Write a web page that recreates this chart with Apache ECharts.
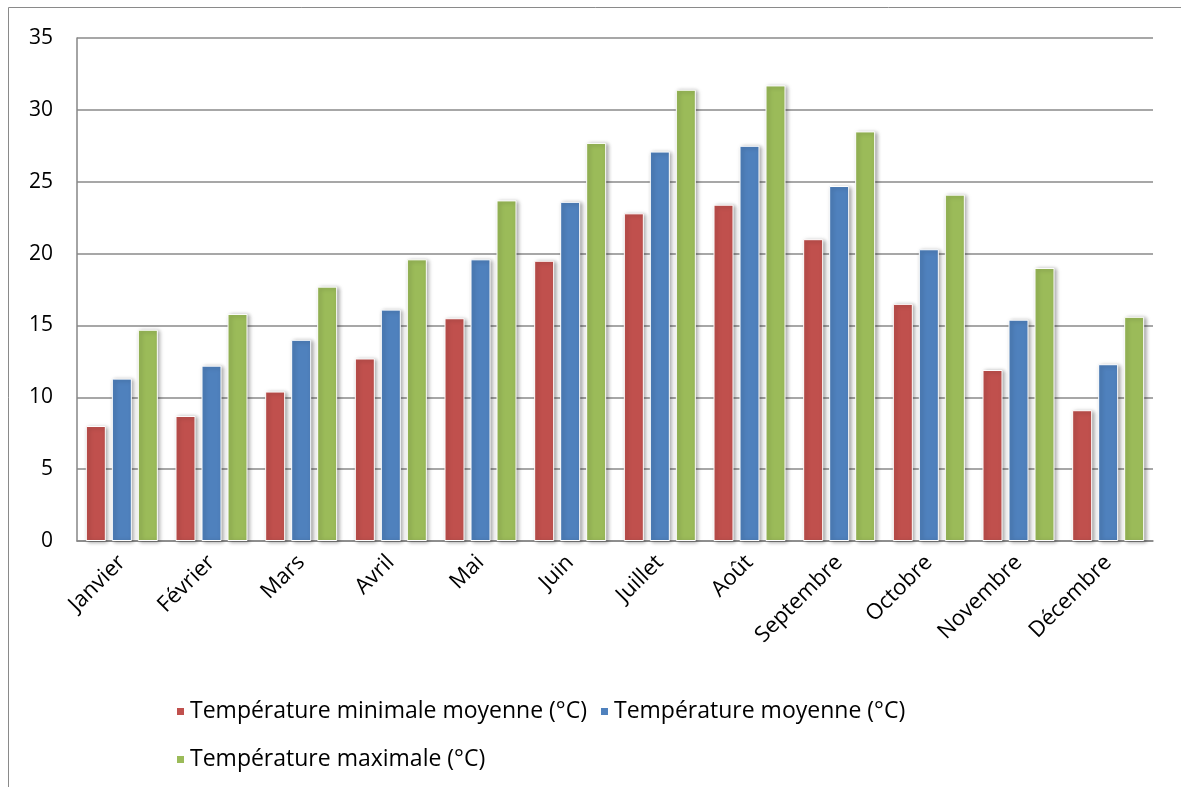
<!DOCTYPE html>
<html><head><meta charset="utf-8">
<script src="https://cdn.jsdelivr.net/npm/echarts@6/dist/echarts.min.js"></script>
<style>html,body{margin:0;padding:0;background:#fff}#c{width:1181px;height:787px}</style>
</head><body><div id="c"></div>
<script>
const categories = ['Janvier','Février','Mars','Avril','Mai','Juin','Juillet','Août','Septembre','Octobre','Novembre','Décembre'];
const seriesNames = ['Température minimale moyenne (°C)','Température moyenne (°C)','Température maximale (°C)'];
const tMin = [8.0, 8.7, 10.4, 12.7, 15.5, 19.5, 22.8, 23.4, 21.0, 16.5, 11.9, 9.1];
const tMoy = [11.3, 12.2, 14.0, 16.1, 19.6, 23.6, 27.1, 27.5, 24.7, 20.3, 15.4, 12.3];
const tMax = [14.7, 15.8, 17.7, 19.6, 23.7, 27.7, 31.4, 31.7, 28.5, 24.1, 19.0, 15.6];
const yTicks = {min: 0, max: 35, interval: 5};
const colors = ['#C0504D', '#4F81BD', '#9BBB59'];

const FONT = 'Open Sans';
const chart = echarts.init(document.getElementById('c'), null, {renderer: 'canvas'});
const mk = (name, data, color) => ({
  name, type: 'bar', data, barWidth: 20, barGap: '30%',
  itemStyle: {color, borderColor: '#fff', borderWidth: 1,
    shadowColor: 'rgba(0,0,0,0.35)', shadowBlur: 4, shadowOffsetX: 2, shadowOffsetY: 1},
  emphasis: {disabled: true}
});
chart.setOption({
  animation: false,
  textStyle: {fontFamily: FONT},
  graphic: [{type: 'rect', shape: {x: 8.5, y: 7.5, width: 1180, height: 800},
    style: {fill: 'none', stroke: '#8a8a8a', lineWidth: 1}, silent: true}],
  grid: {left: 77, right: 28, top: 38, bottom: 246, containLabel: false},
  legend: [
    {data: [seriesNames[0], seriesNames[1]], left: 170, top: 695, itemWidth: 9, itemHeight: 9,
     itemGap: 12, icon: 'rect', textStyle: {fontSize: 23, color: '#000', fontFamily: FONT}},
    {data: [seriesNames[2]], left: 170, top: 743, itemWidth: 9, itemHeight: 9,
     icon: 'rect', textStyle: {fontSize: 23, color: '#000', fontFamily: FONT}}
  ],
  xAxis: {type: 'category', data: categories,
    axisLine: {lineStyle: {color: '#868686', width: 1.5}},
    axisTick: {show: false},
    axisLabel: {rotate: 45, fontSize: 22, color: '#000', margin: 18, fontFamily: FONT}},
  yAxis: {type: 'value', min: yTicks.min, max: yTicks.max, interval: yTicks.interval,
    axisLine: {show: true, lineStyle: {color: '#868686', width: 1.5}},
    axisTick: {show: false},
    splitLine: {lineStyle: {color: '#8a8a8a', width: 1.5}},
    axisLabel: {fontSize: 21, color: '#000', margin: 24, fontFamily: FONT}},
  series: [mk(seriesNames[0], tMin, colors[0]), mk(seriesNames[1], tMoy, colors[1]), mk(seriesNames[2], tMax, colors[2])]
});
</script></body></html>
